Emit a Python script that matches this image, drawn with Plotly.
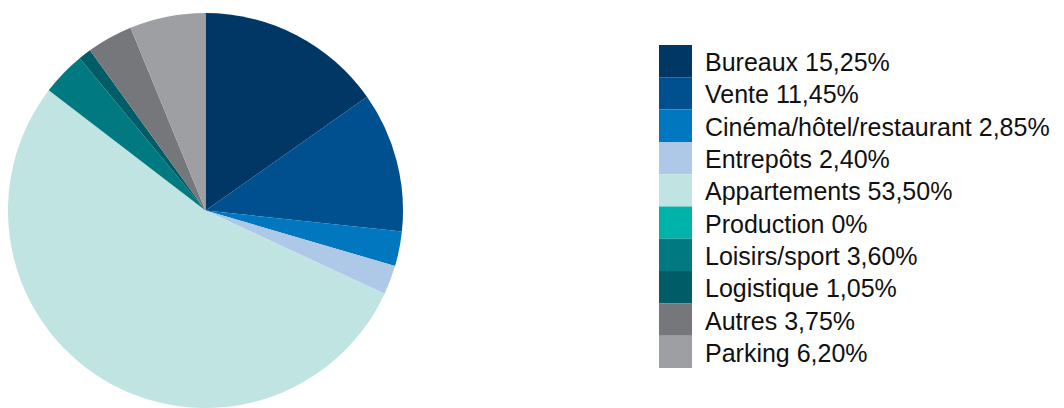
import plotly.graph_objects as go

# Répartition des surfaces par type d'usage
categories = [
    "Bureaux", "Vente", "Cinéma/hôtel/restaurant", "Entrepôts", "Appartements",
    "Production", "Loisirs/sport", "Logistique", "Autres", "Parking",
]
shares = [15.25, 11.45, 2.85, 2.40, 53.50, 0.0, 3.60, 1.05, 3.75, 6.20]
share_labels = ["15,25%", "11,45%", "2,85%", "2,40%", "53,50%", "0%",
                "3,60%", "1,05%", "3,75%", "6,20%"]
colors = [
    "#003764", "#004f8e", "#0077bf", "#aec8e8", "#c0e4e1",
    "#00b3aa", "#007a80", "#005c66", "#76777b", "#9d9fa2",
]

W, H = 1064, 408

fig = go.Figure()
fig.add_trace(go.Pie(
    labels=categories,
    values=shares,
    sort=False,
    direction="clockwise",
    rotation=0,
    textinfo="none",
    hoverinfo="label+percent",
    marker=dict(colors=colors, line=dict(width=0)),
    domain=dict(x=[0, 411 / W], y=[0, 395 / H]),
    showlegend=False,
))

# Légende : pavés de couleur empilés avec leur libellé
row_top, row_h = 45.0, 32.3
sw_x0, sw_x1, txt_x = 659, 692, 703
shapes, annotations = [], []
for i, (cat, lab, col) in enumerate(zip(categories, share_labels, colors)):
    y_top = row_top + row_h * i
    y_bot = y_top + row_h
    shapes.append(dict(
        type="rect", xref="paper", yref="paper",
        x0=sw_x0 / W, x1=sw_x1 / W,
        y0=1 - y_bot / H, y1=1 - y_top / H,
        fillcolor=col, line=dict(width=0), layer="above",
    ))
    annotations.append(dict(
        xref="paper", yref="paper",
        x=txt_x / W, y=1 - (y_top + row_h / 2 + 1) / H,
        xanchor="left", yanchor="middle",
        text=f"{cat} {lab}", showarrow=False,
        font=dict(family="Liberation Sans, Arial, sans-serif", size=25, color="#111111"),
    ))

fig.update_layout(
    width=W, height=H,
    margin=dict(l=0, r=0, t=0, b=0),
    paper_bgcolor="white",
    plot_bgcolor="white",
    shapes=shapes,
    annotations=annotations,
)

fig.write_html("out.html")
